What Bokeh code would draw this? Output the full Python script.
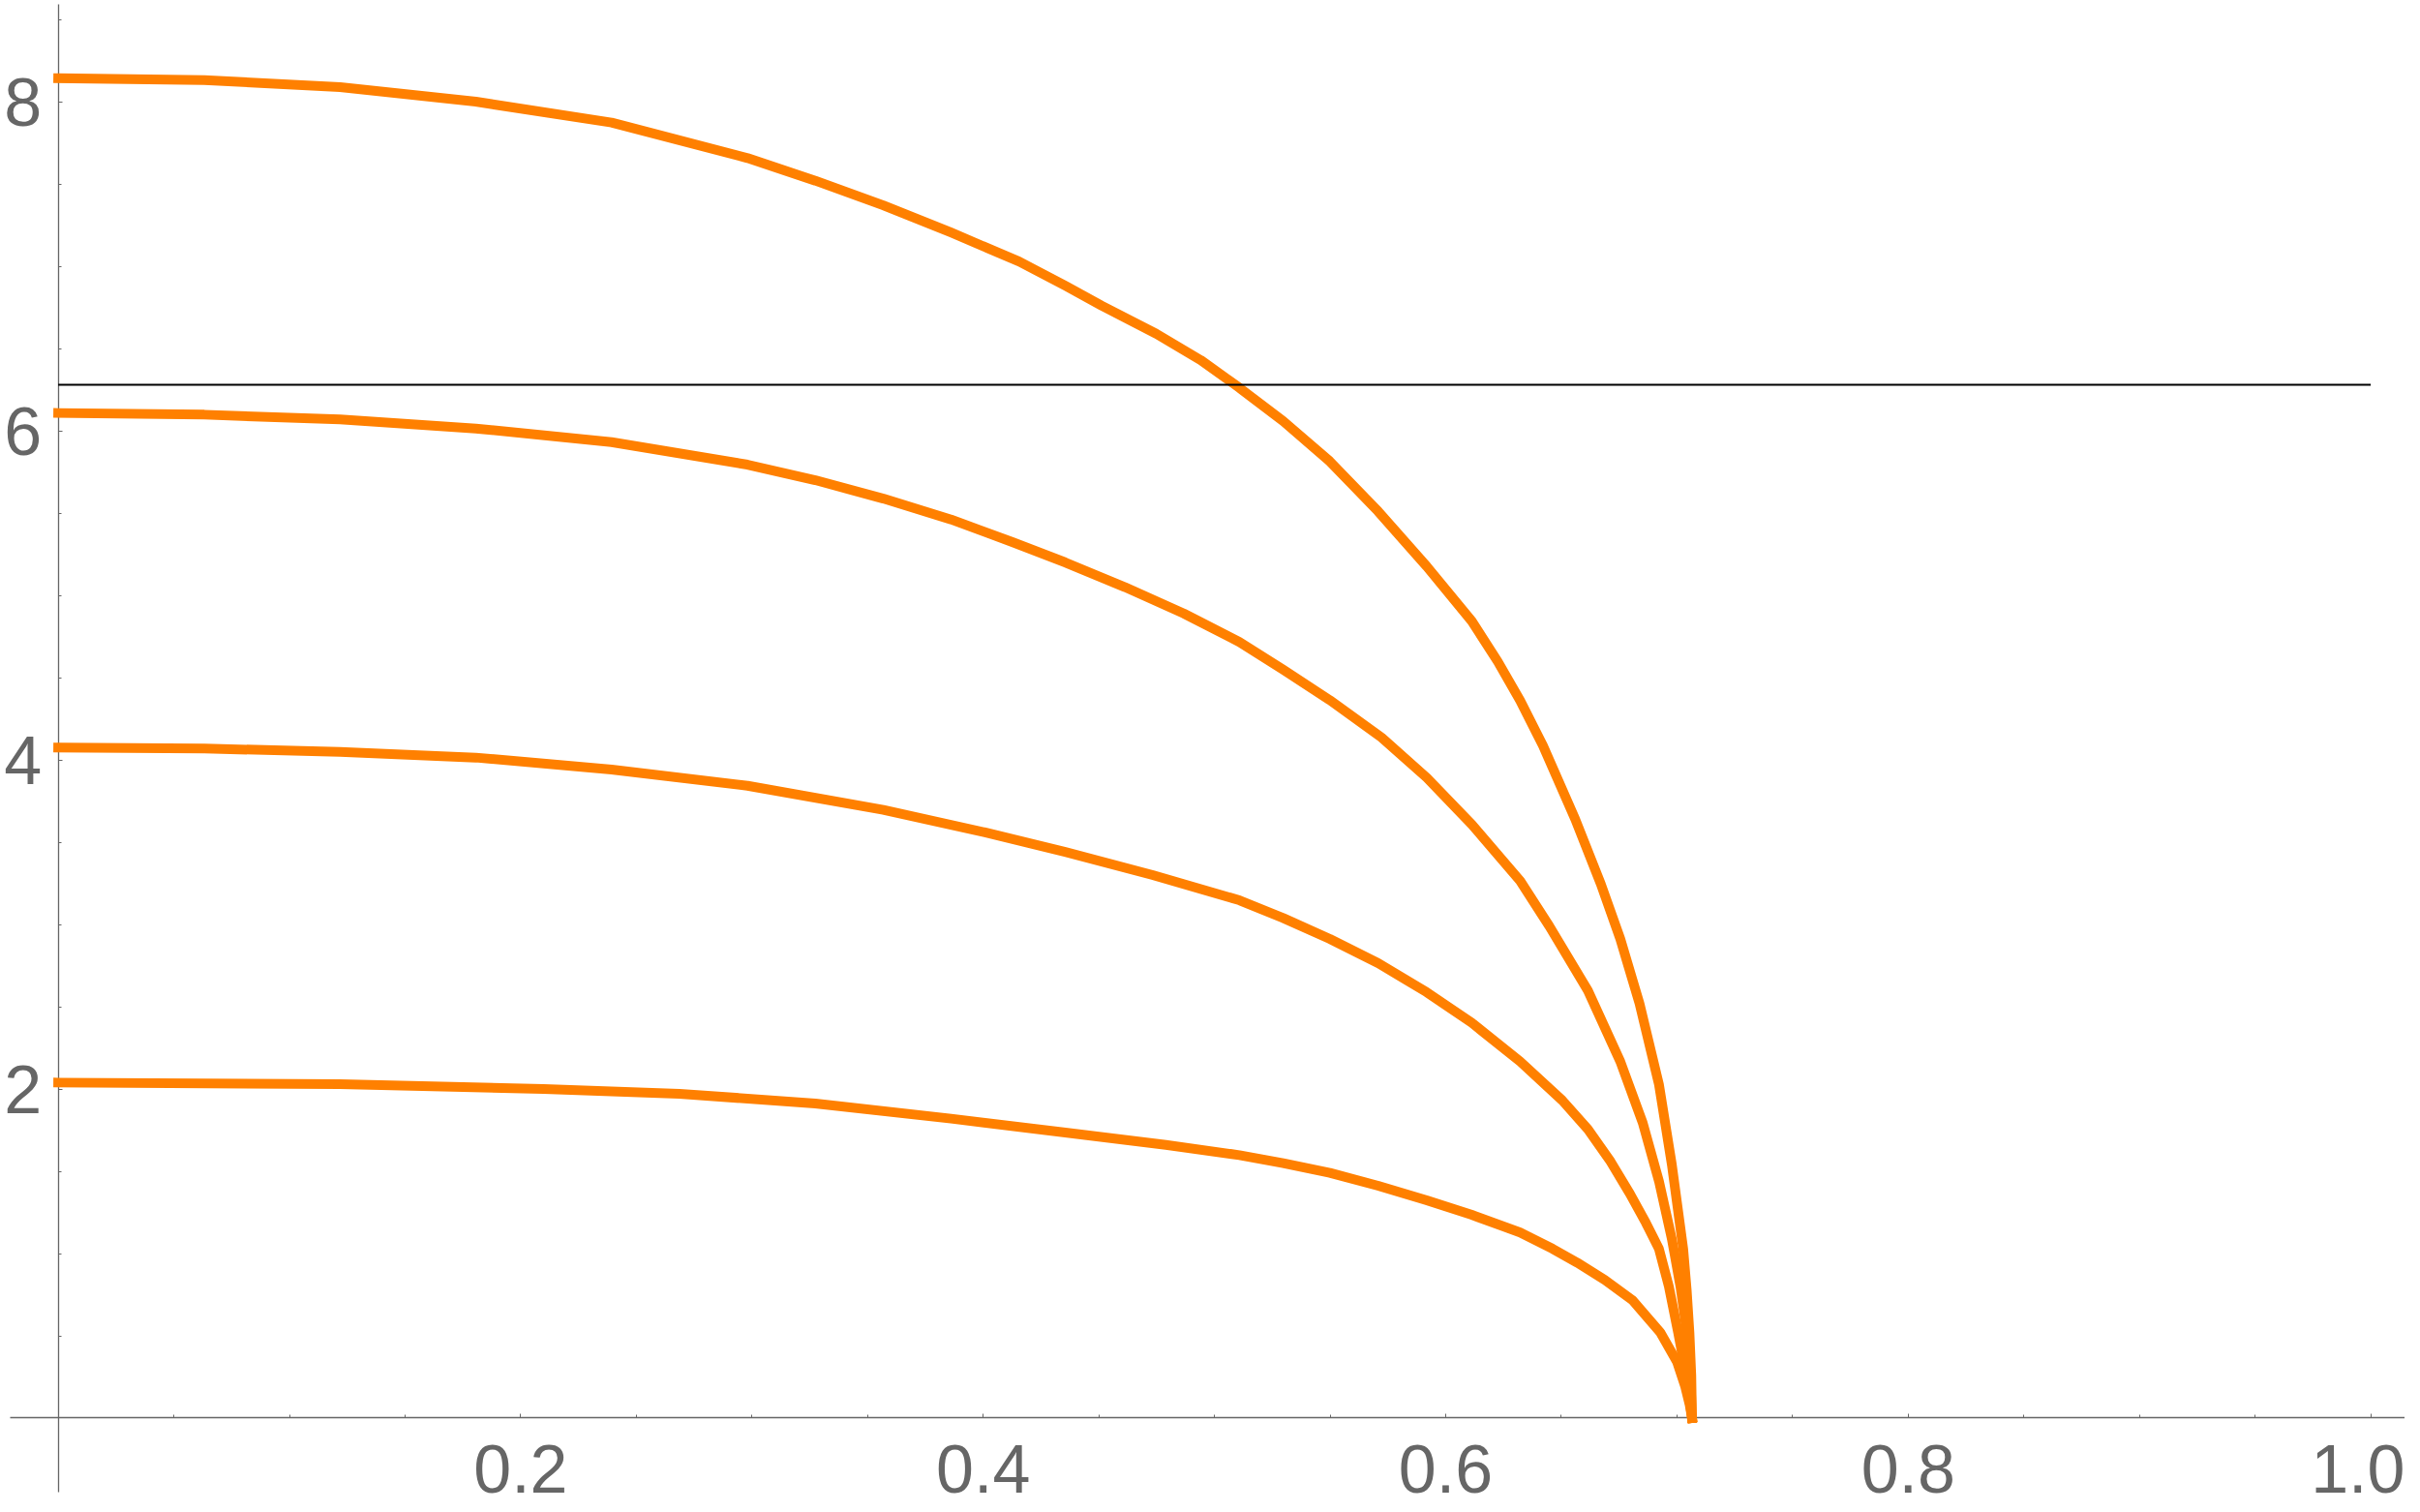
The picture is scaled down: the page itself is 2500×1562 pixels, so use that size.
from bokeh.plotting import figure
from bokeh.models import LinearAxis, FixedTicker, BasicTickFormatter, Range1d
from bokeh.embed import file_html
from bokeh.resources import INLINE

# ---- data ----
curve1_x = [0.0, 0.1219, 0.2099, 0.2687, 0.3274, 0.3861, 0.4355, 0.479, 0.5108, 0.5297,
            0.5499, 0.5708, 0.5918, 0.6113, 0.6322, 0.6462, 0.6568, 0.6688, 0.6808,
            0.6928, 0.700, 0.7036, 0.7055, 0.7065]
curve1_y = [2.039, 2.029, 2.0, 1.971, 1.912, 1.82, 1.735, 1.66, 1.598, 1.549,
            1.49, 1.412, 1.324, 1.235, 1.128, 1.029, 0.945, 0.84, 0.716,
            0.52, 0.343, 0.19, 0.08, 0.0]

curve2_x = [0.0, 0.0632, 0.1219, 0.1806, 0.2393, 0.2981, 0.3568, 0.4008, 0.4355, 0.4733,
            0.5108, 0.5297, 0.5499, 0.5708, 0.5918, 0.6113, 0.6322, 0.6504, 0.6615,
            0.6713, 0.6797, 0.6866, 0.6922, 0.6965, 0.7005, 0.7040, 0.7065]
curve2_y = [4.075, 4.069, 4.049, 4.014, 3.941, 3.843, 3.696, 3.559, 3.441, 3.30,
            3.147, 3.039, 2.912, 2.765, 2.588, 2.402, 2.167, 1.931, 1.755,
            1.559, 1.363, 1.186, 1.029, 0.80, 0.52, 0.26, 0.0]

curve3_x = [0.0, 0.0632, 0.1219, 0.1806, 0.2393, 0.2981, 0.3274, 0.3568, 0.3861, 0.4126,
            0.4355, 0.4613, 0.4867, 0.5108, 0.5297, 0.5499, 0.5722, 0.5918, 0.6113,
            0.6322, 0.6448, 0.6615, 0.6755, 0.6852, 0.6922, 0.6978, 0.7015, 0.7042,
            0.7058, 0.7065]
curve3_y = [6.108, 6.098, 6.069, 6.014, 5.931, 5.794, 5.70, 5.588, 5.461, 5.324,
            5.20, 5.05, 4.89, 4.716, 4.549, 4.363, 4.137, 3.892, 3.608,
            3.265, 2.99, 2.598, 2.167, 1.794, 1.441, 1.088, 0.80, 0.53,
            0.26, 0.0]

curve4_x = [0.0, 0.0632, 0.1219, 0.1806, 0.2393, 0.2981, 0.3274, 0.3568, 0.3861, 0.4155,
            0.4355, 0.4513, 0.4748, 0.494, 0.5108, 0.5297, 0.5499, 0.5708, 0.5918,
            0.6113, 0.6225, 0.6322, 0.642, 0.656, 0.6671, 0.6755, 0.6838, 0.6922,
            0.6978, 0.7027, 0.7042, 0.7054, 0.7062, 0.7065]
curve4_y = [8.143, 8.131, 8.088, 8.0, 7.873, 7.657, 7.52, 7.37, 7.205, 7.029,
            6.882, 6.76, 6.59, 6.43, 6.261, 6.059, 5.814, 5.51, 5.176,
            4.843, 4.598, 4.36, 4.088, 3.64, 3.245, 2.912, 2.52, 2.029,
            1.539, 1.029, 0.78, 0.52, 0.26, 0.0]

curves_x = [curve1_x, curve2_x, curve3_x, curve4_x]
curves_y = [curve1_y, curve2_y, curve3_y, curve4_y]

ref_line_x = [0.0, 1.0]
ref_line_level = 6.28

x_ticks = [0.2, 0.4, 0.6, 0.8, 1.0]
x_tick_labels = ["0.2", "0.4", "0.6", "0.8", "1.0"]
x_minor_ticks = [0.05, 0.1, 0.15, 0.25, 0.3, 0.35, 0.45, 0.5, 0.55,
                 0.65, 0.7, 0.75, 0.85, 0.9, 0.95]
y_ticks = [2, 4, 6, 8]
y_tick_labels = ["2", "4", "6", "8"]
y_minor_ticks = [0.5, 1, 1.5, 2.5, 3, 3.5, 4.5, 5, 5.5, 6.5, 7, 7.5, 8.5]

# ---- styling ----
ORANGE = "#ff8000"
GREY = "#666666"
FONT = "Liberation Sans"

p = figure(width=2484, height=1560,
           x_range=Range1d(-0.02495, 1.01482), y_range=Range1d(-0.5618, 8.615),
           output_backend="svg", toolbar_location=None,
           x_axis_location=None, y_axis_location=None,
           min_border=0, outline_line_color=None,
           background_fill_color="white", border_fill_color="white")
p.xgrid.visible = False
p.ygrid.visible = False

xaxis = LinearAxis(ticker=FixedTicker(ticks=x_ticks, minor_ticks=x_minor_ticks),
                   formatter=BasicTickFormatter(precision=1),
                   fixed_location=0, bounds=(-0.0208, 1.2))
xaxis.major_label_overrides = {t: l for t, l in zip(x_ticks, x_tick_labels)}
yaxis = LinearAxis(ticker=FixedTicker(ticks=y_ticks, minor_ticks=y_minor_ticks),
                   formatter=BasicTickFormatter(precision=0),
                   fixed_location=0, bounds=(-0.45, 8.59))
yaxis.major_label_overrides = {t: l for t, l in zip(y_ticks, y_tick_labels)}

for ax in (xaxis, yaxis):
    ax.axis_line_color = GREY
    ax.axis_line_width = 1.3
    ax.major_tick_line_color = GREY
    ax.minor_tick_line_color = GREY
    ax.major_tick_line_width = 1
    ax.minor_tick_line_width = 1
    ax.major_tick_in = 4
    ax.major_tick_out = 0
    ax.minor_tick_in = 3
    ax.minor_tick_out = 0
    ax.major_label_text_font = FONT
    ax.major_label_text_font_size = "70px"
    ax.major_label_text_color = GREY

xaxis.major_label_standoff = 28
yaxis.major_label_standoff = 17

p.add_layout(xaxis, "below")
p.add_layout(yaxis, "left")

for xs, ys in zip(curves_x, curves_y):
    p.line(xs, ys, line_color=ORANGE, line_width=10,
           line_cap="square", line_join="round", level="overlay")

p.line(ref_line_x, [ref_line_level] * len(ref_line_x),
       line_color="black", line_width=2, level="overlay")

open("out.html", "w").write(file_html(p, INLINE))
